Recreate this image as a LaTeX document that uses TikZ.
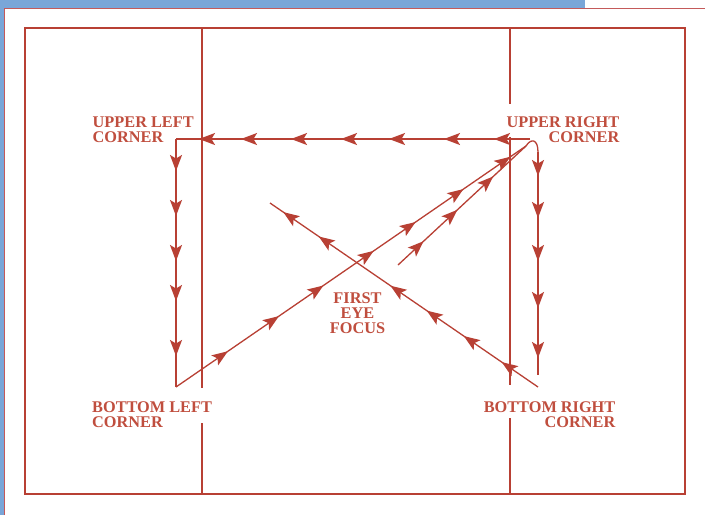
\documentclass[tikz,border=0pt]{standalone}
\usepackage{fontspec}
\setmainfont{Liberation Serif}
\usetikzlibrary{arrows.meta,decorations.markings}
\definecolor{ink}{RGB}{184,64,52}
\definecolor{txt}{RGB}{192,78,62}
\definecolor{barblue}{RGB}{122,166,216}
\definecolor{edgered}{RGB}{196,90,90}
\tikzset{
  frameline/.style={draw=ink, line width=1.9pt},
  flow/.style={draw=ink, line width=1.3pt},
  tipsat/.style={postaction={decorate,decoration={markings,
      mark=at position #1 with {\arrow[color=ink]{Stealth[length=16pt,width=12pt,inset=3.5pt]}}}}},
  lbl/.style={text=txt, inner sep=0pt,
      font=\bfseries\fontsize{16.3}{14.8}\selectfont},
  lblc/.style={text=txt, inner sep=0pt,
      font=\bfseries\fontsize{16.3}{15.2}\selectfont}
}
\begin{document}
\begin{tikzpicture}[x=1pt,y=-1pt]
\useasboundingbox (0,0) rectangle (705,515);
\fill[white] (0,0) rectangle (705,515);
% page decoration
\fill[barblue] (0,0) rectangle (585,7.5);
\fill[barblue] (0,0) rectangle (3.5,515);
\draw[edgered, line width=1pt] (4,515) -- (4,8.5) -- (705,8.5);
% frame
\draw[frameline] (25,28) rectangle (685,494);
\draw[frameline] (202,28) -- (202,388);
\draw[frameline] (202,423) -- (202,494);
\draw[frameline] (510,28) -- (510,104);
\draw[frameline] (510,137) -- (510,385);
\draw[frameline] (510,418) -- (510,494);
% points
\coordinate (ul) at (176,139);
\coordinate (ur) at (530,139);
\coordinate (bl) at (176,387);
\coordinate (br) at (538,387);
\coordinate (hook) at (526,146);
\coordinate (rtop) at (538,152);
\coordinate (rbot) at (538,375);
\coordinate (d2) at (398,265);
\coordinate (xend) at (270,203);
% eye paths
\draw[flow, tipsat/.list={36pt,86pt,141pt,189pt,239pt,289pt,331pt}] (ur) -- (ul);
\draw[flow, tipsat/.list={32pt,77pt,122pt,162pt,217pt}] (ul) -- (bl);
\draw[flow, tipsat/.list={63pt,125pt,179pt,240pt,291pt,349pt,406pt}] (bl) -- (hook);
\draw[flow, tipsat/.list={35pt,81pt,130pt}] (d2) -- (hook);
\draw[flow, tipsat/.list={44pt,90pt,135pt,179pt,266pt,309pt}] (br) -- (xend);
\draw[flow] (hook) .. controls (531,138) and (538,139) .. (rtop);
\draw[flow, tipsat/.list={24pt,66pt,109pt,156pt,206pt}] (rtop) -- (rbot);
% labels
\node[lbl, anchor=north west, align=left] (ullbl) at (92.5,117) {UPPER LEFT\\CORNER};
\node[lbl, anchor=north east, align=right] (urlbl) at (619.5,116.5) {UPPER RIGHT\\CORNER};
\node[lbl, anchor=north west, align=left] (bllbl) at (92,402) {BOTTOM LEFT\\CORNER};
\node[lbl, anchor=north east, align=right] (brlbl) at (615.5,401.5) {BOTTOM RIGHT\\CORNER};
\node[lblc, anchor=north, align=center] (focus) at (357.5,292.5) {FIRST\\EYE\\FOCUS};
\end{tikzpicture}
\end{document}
